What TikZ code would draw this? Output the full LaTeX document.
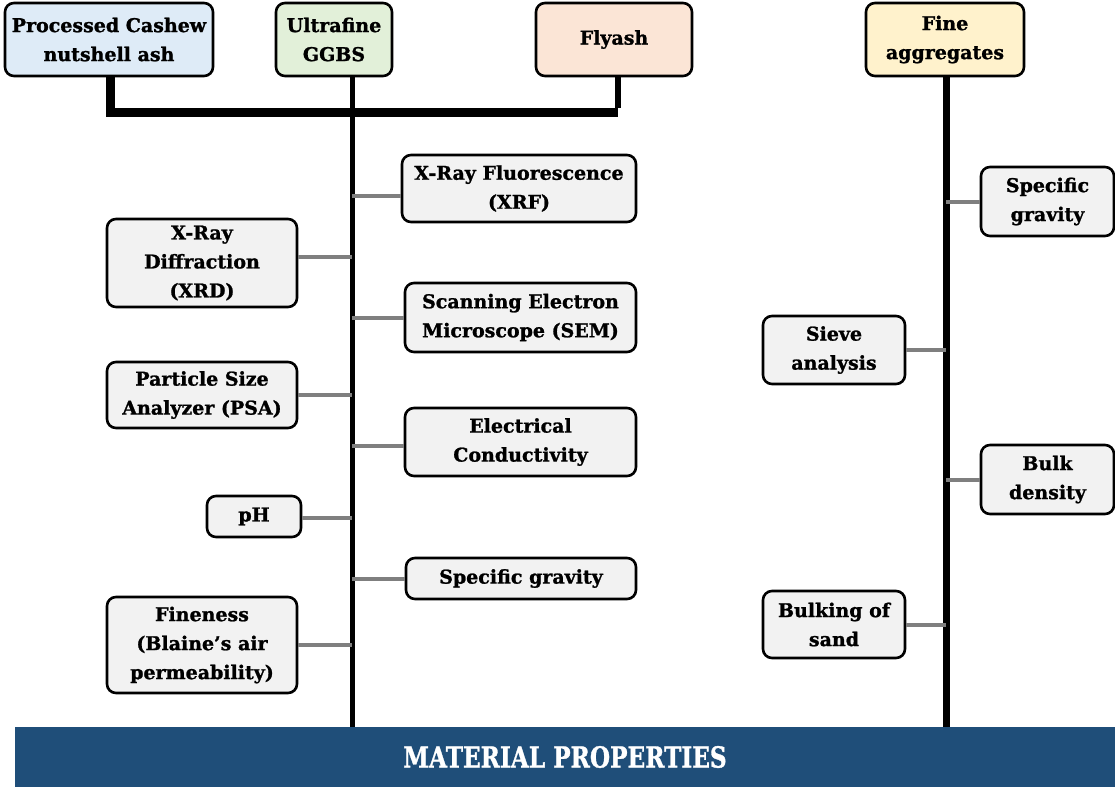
\documentclass[tikz,border=0pt]{standalone}
\usepackage{fontspec}
\setmainfont{DejaVu Serif}[BoldFeatures={FakeBold=1.2}]
\definecolor{cblue}{HTML}{DEEBF7}
\definecolor{cgreen}{HTML}{E2F0D9}
\definecolor{cpeach}{HTML}{FBE5D6}
\definecolor{cyellow}{HTML}{FFF2CC}
\definecolor{cgray}{HTML}{F2F2F2}
\definecolor{cline}{HTML}{7F7F7F}
\definecolor{cbanner}{HTML}{1F4E79}
\tikzset{
  box/.style={draw=black, line width=2.6pt, rounded corners=9pt, fill=cgray,
    align=center, inner sep=0pt, font=\fontsize{19}{29}\selectfont\bfseries},
  bar/.style={line width=9pt},
  spine/.style={line width=5pt},
  spineb/.style={line width=7pt},
  conn/.style={draw=cline, line width=4pt},
}
\begin{document}
\begin{tikzpicture}[x=1pt,y=-1pt]
\useasboundingbox (0,0) rectangle (1115,787);
% banner
\node[fill=cbanner, minimum width=1100pt, minimum height=60pt, inner sep=0pt,
  text=white, font=\fontsize{29}{32}\selectfont\bfseries] (banner) at (565,757)
  {\scalebox{0.8}[1]{MATERIAL PROPERTIES}};
% top boxes
\node[box, fill=cblue, minimum width=208pt, minimum height=73pt] (cashew) at (109,39.5) {Processed Cashew\\nutshell ash};
\node[box, fill=cgreen, minimum width=116pt, minimum height=73pt] (ggbs) at (334,39.5) {Ultrafine\\GGBS};
\node[box, fill=cpeach, minimum width=156pt, minimum height=73pt] (flyash) at (614,39.5) {Flyash};
\node[box, fill=cyellow, minimum width=158pt, minimum height=73pt] (fine) at (945,39.5) {Fine\\aggregates};
% spines
\coordinate (sp) at (352,727);
\coordinate (sf) at (946,727);
\coordinate (barl) at (110,112);
\coordinate (barr) at (618,112);
\draw[spine] (ggbs.south -| sp) -- (sp);
\draw[spineb] (fine.south -| sf) -- (sf);
\draw[bar] (cashew.south -| barl) -- (barl) -- (barr);
\draw[line width=6pt] (flyash.south -| barr) -- ([yshift=4.5pt]barr);
% left column boxes
\node[box, minimum width=234pt, minimum height=67pt] (xrf) at (519,188.5) {X-Ray Fluorescence\\(XRF)};
\node[box, minimum width=190pt, minimum height=88pt] (xrd) at (202,263) {X-Ray\\Diffraction\\(XRD)};
\node[box, minimum width=231pt, minimum height=69pt] (sem) at (520.5,317.5) {Scanning Electron\\Microscope (SEM)};
\node[box, minimum width=190pt, minimum height=66pt] (psa) at (202,395) {Particle Size\\Analyzer (PSA)};
\node[box, minimum width=231pt, minimum height=68pt] (elec) at (520.5,442) {Electrical\\Conductivity};
\node[box, minimum width=94pt, minimum height=41pt] (ph) at (254,516.5) {pH};
\node[box, minimum width=230pt, minimum height=41pt] (sg) at (521,578.5) {Specific gravity};
\node[box, minimum width=190pt, minimum height=96pt] (fin) at (202,645) {Fineness\\(Blaine’s air\\permeability)};
% right column boxes
\node[box, minimum width=133pt, minimum height=69pt] (sg2) at (1047.5,201.5) {Specific\\gravity};
\node[box, minimum width=142pt, minimum height=68pt] (sieve) at (834,350) {Sieve\\analysis};
\node[box, minimum width=133pt, minimum height=69pt] (bulk) at (1047.5,479.5) {Bulk\\density};
\node[box, minimum width=142pt, minimum height=67pt] (bulking) at (834,624.5) {Bulking of\\sand};
% connectors
\draw[conn] ([yshift=-7.5pt]xrf.west) -- ([yshift=-7.5pt]xrf.west -| sp);
\draw[conn] ([yshift=6pt]xrd.east) -- ([yshift=6pt]xrd.east -| sp);
\draw[conn] (sem.west) -- (sem.west -| sp);
\draw[conn] (psa.east) -- (psa.east -| sp);
\draw[conn] ([yshift=-4pt]elec.west) -- ([yshift=-4pt]elec.west -| sp);
\draw[conn] ([yshift=-1.5pt]ph.east) -- ([yshift=-1.5pt]ph.east -| sp);
\draw[conn] (sg.west) -- (sg.west -| sp);
\draw[conn] (fin.east) -- (fin.east -| sp);
\draw[conn] (sg2.west) -- (sg2.west -| sf);
\draw[conn] (sieve.east) -- (sieve.east -| sf);
\draw[conn] (bulk.west) -- (bulk.west -| sf);
\draw[conn] (bulking.east) -- (bulking.east -| sf);
\end{tikzpicture}
\end{document}
